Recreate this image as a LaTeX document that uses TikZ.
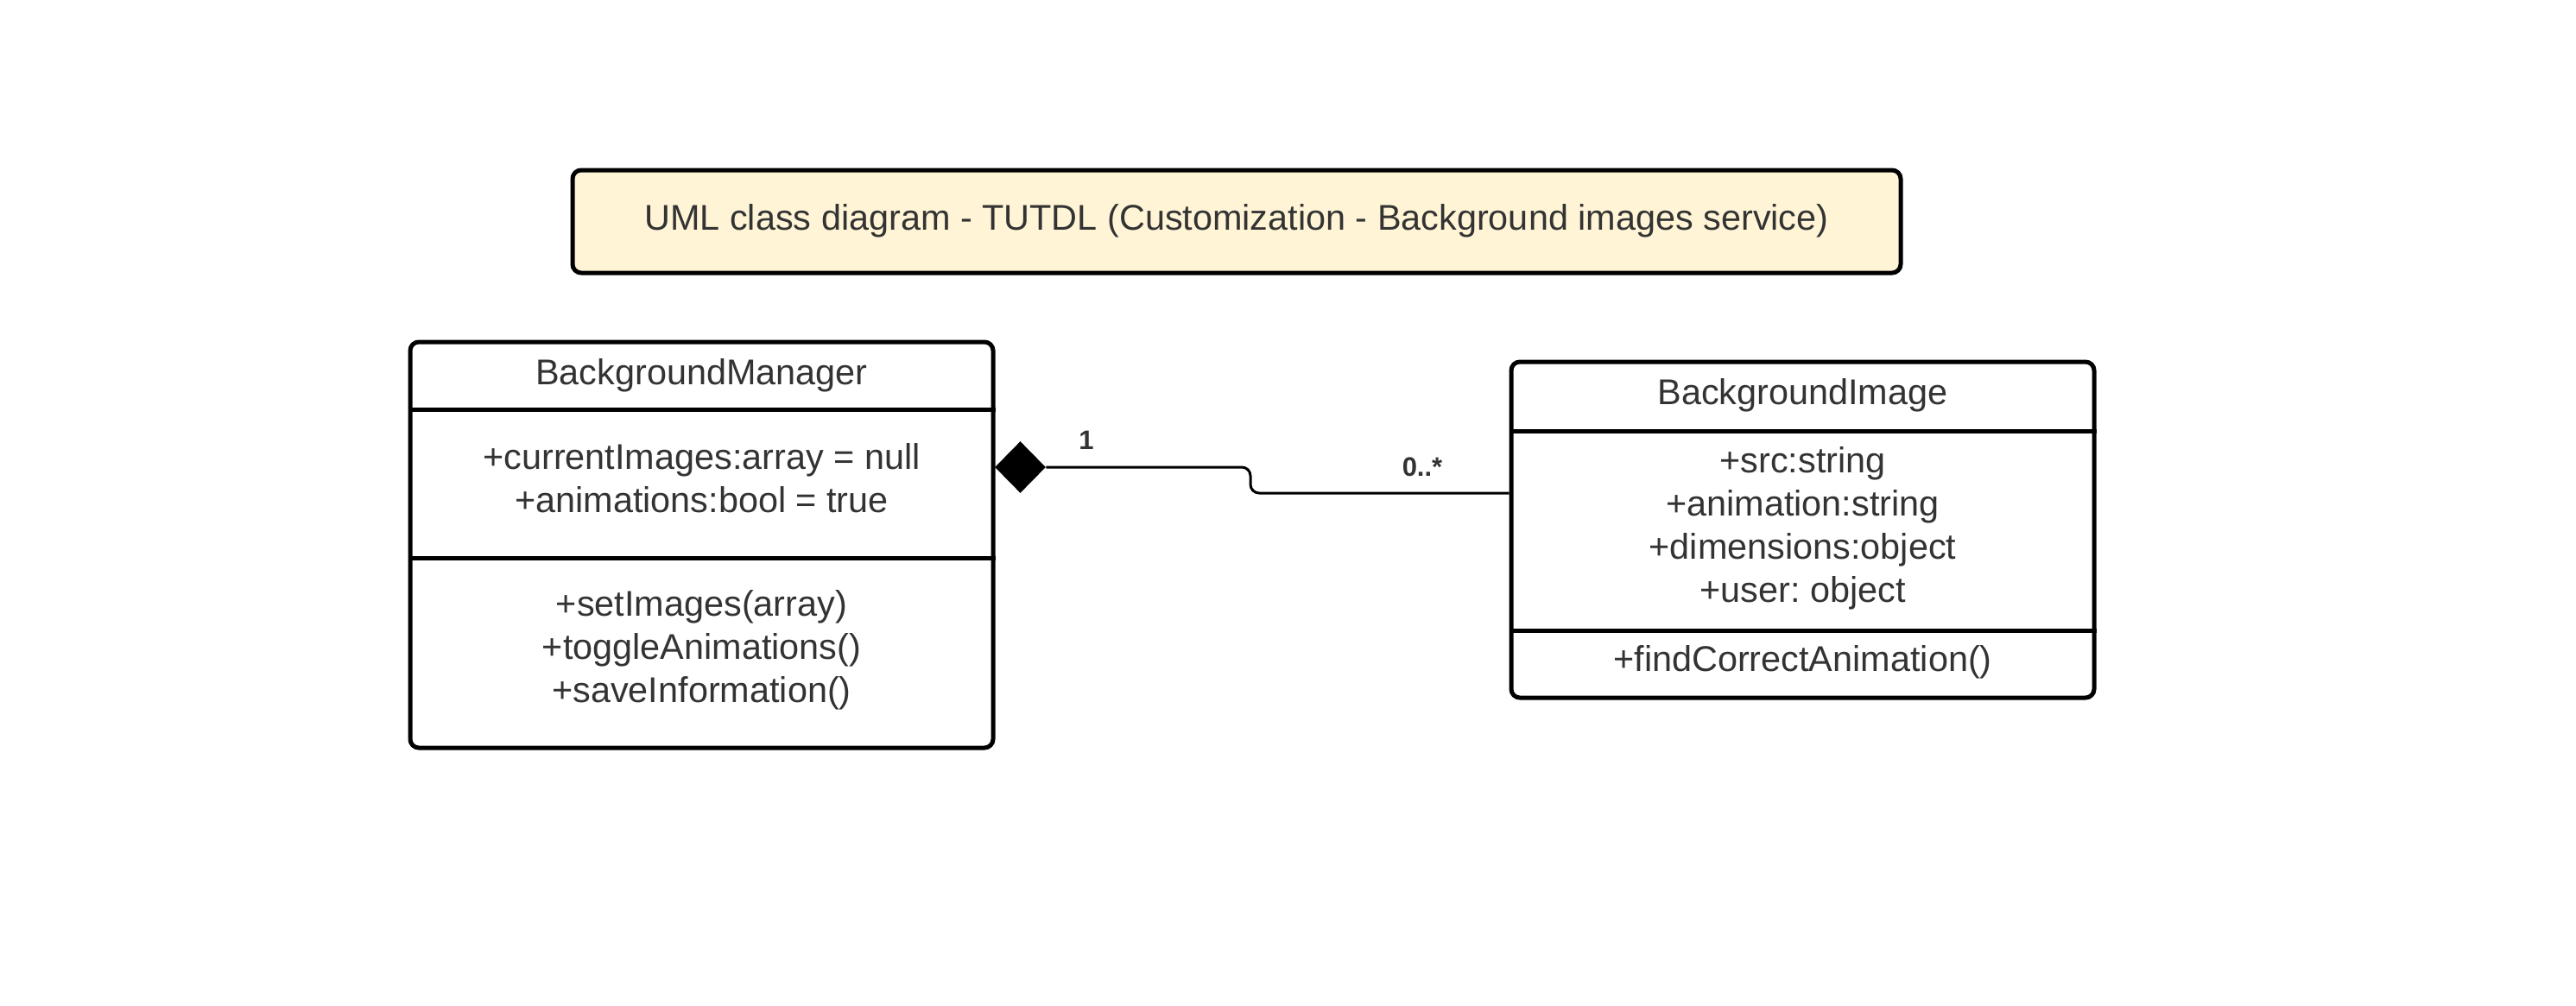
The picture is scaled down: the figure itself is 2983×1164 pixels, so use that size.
\documentclass[tikz,border=0pt]{standalone}
\usepackage{fontspec}
\setmainfont{Liberation Sans}
\usetikzlibrary{shapes.geometric}
\definecolor{txt}{HTML}{333333}
\definecolor{notefill}{HTML}{FFF5D6}
\frenchspacing
\begin{document}
\begin{tikzpicture}[x=0.5pt,y=-0.5pt,
  box/.style={draw=black, line width=2.5pt, rounded corners=5pt, inner sep=0pt},
  sepline/.style={draw=black, line width=2.5pt},
  lbl/.style={text=txt, font=\fontsize{20.7pt}{25pt}\selectfont\frenchspacing, anchor=base, inner sep=0pt},
  mult/.style={text=txt, font=\fontsize{15.5pt}{18pt}\selectfont\bfseries, anchor=base, inner sep=0pt},
  conn/.style={draw=black, line width=1.5pt, rounded corners=5pt}]
\useasboundingbox (0,0) rectangle (2983,1164);

% title
\node[box, fill=notefill, minimum width=769pt, minimum height=59.5pt] (title) at (1432,256.5) {};
\node[lbl] (titletext) at (1432,266) {UML class diagram - TUTDL (Customization - Background images service)};

% BackgroundManager
\node[box, fill=white, minimum width=337.5pt, minimum height=235pt] (BM) at (812.5,631) {};
\coordinate (bmh) at (0,474);
\coordinate (bma) at (0,646);
\draw[sepline] (BM.west |- bmh) -- (BM.east |- bmh);
\draw[sepline] (BM.west |- bma) -- (BM.east |- bma);
\node[lbl] (bmname) at (812.5,445) {BackgroundManager};
\node[lbl] (bmat1) at (812.5,543) {+currentImages:array = null};
\node[lbl] (bmat2) at (812.5,593) {+animations:bool = true};
\node[lbl] (bmop1) at (812.5,713) {+setImages(array)};
\node[lbl] (bmop2) at (812.5,763) {+toggleAnimations()};
\node[lbl] (bmop3) at (812.5,813) {+saveInformation()};

% BackgroundImage
\node[box, fill=white, minimum width=337.5pt, minimum height=194.5pt] (BI) at (2087.5,613.5) {};
\coordinate (bih) at (0,499);
\coordinate (bia) at (0,730);
\draw[sepline] (BI.west |- bih) -- (BI.east |- bih);
\draw[sepline] (BI.west |- bia) -- (BI.east |- bia);
\node[lbl] (biname) at (2087.5,468) {BackgroundImage};
\node[lbl] (biat1) at (2087.5,547) {+src:string};
\node[lbl] (biat2) at (2087.5,597) {+animation:string};
\node[lbl] (biat3) at (2087.5,647) {+dimensions:object};
\node[lbl] (biat4) at (2087.5,697) {+user: object};
\node[lbl] (biop1) at (2087.5,777) {+findCorrectAnimation()};

% composition connector
\node[diamond, fill=black, draw=none, inner sep=0pt, minimum width=29.5pt, minimum height=30pt] (dia) at (1181.5,541) {};
\coordinate (j1) at (1448,541);
\coordinate (j2) at (1448,571);
\draw[conn] (dia.east) -- (j1) -- (j2) -- (j2 -| BI.west);
\node[mult] (m1) at (1258,520) {1};
\node[mult] (m2) at (1647,551) {0..*};
\end{tikzpicture}
\end{document}
